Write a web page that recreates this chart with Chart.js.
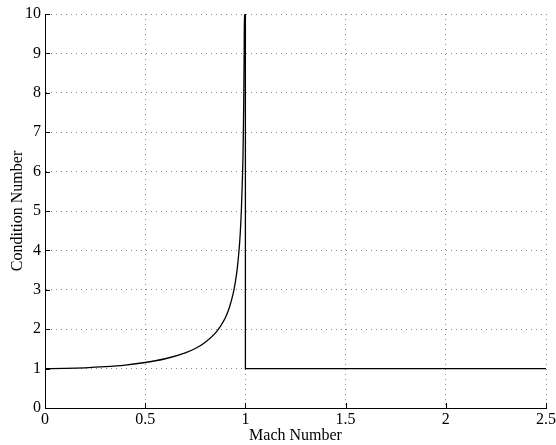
<!DOCTYPE html>
<html lang="en">
<head>
<meta charset="UTF-8">
<title>Condition Number</title>
<script src="https://cdn.jsdelivr.net/npm/chart.js"></script>
<style>
  html, body { margin: 0; padding: 0; background: #fff; }
  canvas { display: block; }
</style>
</head>
<body>
<canvas id="myChart" width="556" height="445"></canvas>
<script>
// values
const mach = [0, 0.1, 0.2, 0.3, 0.4, 0.5, 0.6, 0.7, 0.75, 0.8, 0.85, 0.875, 0.9, 0.92, 0.94, 0.95, 0.96, 0.97, 0.975, 0.98, 0.985, 0.988, 0.99, 0.992, 0.994, 0.995, 1.0, 1.0, 1.5, 2.0, 2.5];
const condicao = [1.0, 1.005, 1.02, 1.048, 1.09, 1.155, 1.25, 1.40, 1.51, 1.67, 1.90, 2.07, 2.29, 2.55, 2.93, 3.2, 3.57, 4.11, 4.5, 5.03, 5.8, 6.4, 7.09, 7.9, 9.1, 10.0, 10.0, 1.0, 1.0, 1.0, 1.0];
const xTicks = [0, 0.5, 1, 1.5, 2, 2.5];
const yTicks = [0, 1, 2, 3, 4, 5, 6, 7, 8, 9, 10];

const fonte = { family: '"Liberation Serif", "Times New Roman", serif', size: 16 };

const pontos = [];
for (let i = 0; i < mach.length; i++) {
  pontos.push({ x: mach[i], y: condicao[i] });
}

// inward ticks like the original axes
const ticksDentro = {
  id: 'ticksDentro',
  afterDraw(chart) {
    const ctx = chart.ctx;
    const a = chart.chartArea;
    const sx = chart.scales.x, sy = chart.scales.y;
    ctx.save();
    ctx.strokeStyle = '#000';
    ctx.lineWidth = 1;
    ctx.beginPath();
    xTicks.forEach(v => {
      const px = Math.round(sx.getPixelForValue(v)) + 0.5;
      ctx.moveTo(px, a.bottom); ctx.lineTo(px, a.bottom - 5);
    });
    yTicks.forEach(v => {
      const py = Math.round(sy.getPixelForValue(v)) + 0.5;
      ctx.moveTo(a.left, py); ctx.lineTo(a.left + 5, py);
    });
    ctx.stroke();
    ctx.restore();
  }
};

const config = {
  type: 'line',
  data: {
    datasets: [{
      data: pontos,
      borderColor: '#000',
      borderWidth: 1.3,
      pointRadius: 0,
      fill: false,
      cubicInterpolationMode: 'monotone'
    }]
  },
  options: {
    responsive: false,
    animation: false,
    layout: { padding: { top: 14, right: 10, left: 0, bottom: 0 } },
    plugins: { legend: { display: false }, tooltip: { enabled: false } },
    scales: {
      x: {
        type: 'linear',
        min: 0, max: 2.5,
        afterBuildTicks: s => { s.ticks = xTicks.map(v => ({ value: v })); },
        afterFit: s => { s.height = 37; s.paddingRight = 0; },
        ticks: { color: '#000', font: fonte, padding: 2, maxRotation: 0,
          callback: v => String(v) },
        grid: { color: '#888', drawTicks: false, lineWidth: 1 },
        border: { display: true, color: '#000', width: 1, dash: [1, 4] },
        title: { display: true, text: 'Mach Number', color: '#000', font: fonte, padding: { top: -5, bottom: 0 } }
      },
      y: {
        type: 'linear',
        min: 0, max: 10,
        afterBuildTicks: s => { s.ticks = yTicks.map(v => ({ value: v })); },
        afterFit: s => { s.width = 45; },
        ticks: { color: '#000', font: fonte, padding: 4 },
        grid: { color: '#888', drawTicks: false, lineWidth: 1 },
        border: { display: true, color: '#000', width: 1, dash: [1, 4] },
        title: { display: true, text: 'Condition Number', color: '#000', font: fonte, padding: { top: 8, bottom: 0 } }
      }
    }
  },
  plugins: [ticksDentro]
};

let myChart = new Chart(document.getElementById('myChart'), config);
</script>
</body>
</html>
